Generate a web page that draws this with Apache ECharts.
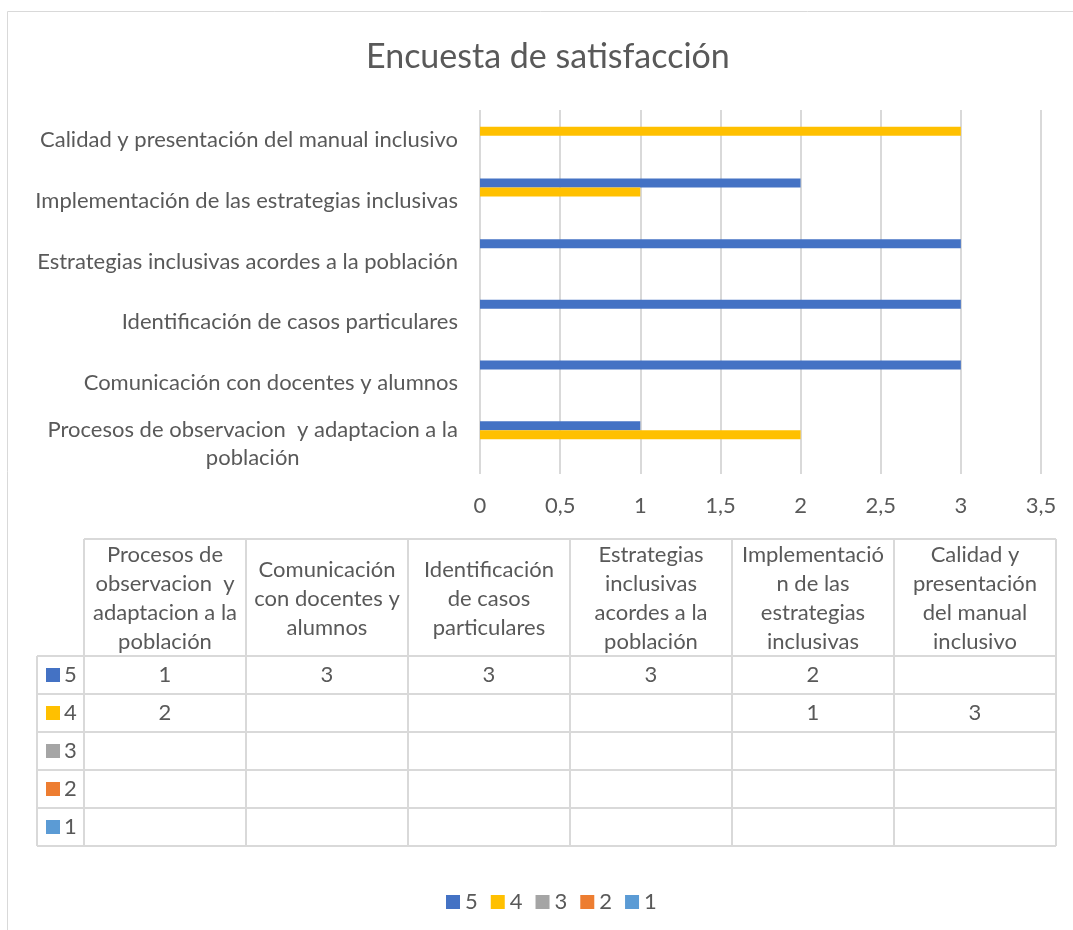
<!DOCTYPE html>
<html>
<head>
<meta charset="utf-8">
<script src="https://cdn.jsdelivr.net/npm/echarts@6/dist/echarts.min.js"></script>
<style>
  html, body { margin: 0; padding: 0; background: #fff; }
  #chart { width: 1073px; height: 930px; }
</style>
</head>
<body>
<div id="chart"></div>
<script>
// data, bottom category first
const categories = [
  'Procesos de observacion  y adaptacion a la\npoblación',
  'Comunicación con docentes y alumnos',
  'Identificación de casos particulares',
  'Estrategias inclusivas acordes a la población',
  'Implementación de las estrategias inclusivas',
  'Calidad y presentación del manual inclusivo'
];
const tableHeaders = [
  'Procesos de\nobservacion  y\nadaptacion a la\npoblación',
  'Comunicación\ncon docentes y\nalumnos',
  'Identificación\nde casos\nparticulares',
  'Estrategias\ninclusivas\nacordes a la\npoblación',
  'Implementació\nn de las\nestrategias\ninclusivas',
  'Calidad y\npresentación\ndel manual\ninclusivo'
];
const seriesNames = ['5', '4', '3', '2', '1'];
const colors = ['#4472C4', '#FFC000', '#A5A5A5', '#ED7D31', '#5B9BD5'];
const values5 = [1, 3, 3, 3, 2, null];
const values4 = [2, null, null, null, 1, 3];
const values3 = [null, null, null, null, null, null];
const values2 = [null, null, null, null, null, null];
const values1 = [null, null, null, null, null, null];
const seriesValues = [values5, values4, values3, values2, values1];
const xMin = 0, xMax = 3.5, xStep = 0.5;

const FONT = 'Lato';
const FS = 22;
const TXT = '#595959';
const LINE = '#D9D9D9';

// measure text so the wrapped axis label can have its 2nd line centred
const ctx = document.createElement('canvas').getContext('2d');
ctx.font = FS + 'px ' + FONT;

const chart = echarts.init(document.getElementById('chart'));

// table layout
const tLeft = 37, tKeyRight = 84, tRight = 1056, tTop = 539, tHeadBottom = 656, rowH = 38;
const colW = (tRight - tKeyRight) / tableHeaders.length;

const graphics = [];
// outer frame
graphics.push({ type: 'rect', shape: { x: 7.5, y: 11.5, width: 1200, height: 1000 }, style: { fill: 'none', stroke: LINE, lineWidth: 1 }, silent: true });
// horizontal lines
graphics.push({ type: 'line', shape: { x1: tKeyRight, y1: tTop, x2: tRight, y2: tTop }, style: { stroke: LINE, lineWidth: 2 } });
for (let i = 0; i <= seriesNames.length; i++) {
  const y = tHeadBottom + i * rowH;
  graphics.push({ type: 'line', shape: { x1: tLeft, y1: y, x2: tRight, y2: y }, style: { stroke: LINE, lineWidth: 2 } });
}
// vertical lines
graphics.push({ type: 'line', shape: { x1: tLeft, y1: tHeadBottom, x2: tLeft, y2: tHeadBottom + seriesNames.length * rowH }, style: { stroke: LINE, lineWidth: 2 } });
for (let c = 0; c <= tableHeaders.length; c++) {
  const x = tKeyRight + c * colW;
  graphics.push({ type: 'line', shape: { x1: x, y1: tTop, x2: x, y2: tHeadBottom + seriesNames.length * rowH }, style: { stroke: LINE, lineWidth: 2 } });
}
// header texts
tableHeaders.forEach((h, c) => {
  graphics.push({
    type: 'text', x: tKeyRight + c * colW + colW / 2, y: (tTop + tHeadBottom) / 2 + 1,
    style: { text: h, font: FS + 'px ' + FONT, fill: TXT, align: 'center', verticalAlign: 'middle', lineHeight: 29 }
  });
});
// rows
seriesNames.forEach((name, r) => {
  const cy = tHeadBottom + r * rowH + rowH / 2;
  graphics.push({ type: 'rect', shape: { x: 46, y: cy - 7, width: 14, height: 14 }, style: { fill: colors[r] } });
  graphics.push({ type: 'text', x: 64, y: cy, style: { text: name, font: FS + 'px ' + FONT, fill: TXT, align: 'left', verticalAlign: 'middle' } });
  seriesValues[r].forEach((v, c) => {
    if (v == null) return;
    graphics.push({
      type: 'text', x: tKeyRight + c * colW + colW / 2, y: cy,
      style: { text: String(v), font: FS + 'px ' + FONT, fill: TXT, align: 'center', verticalAlign: 'middle' }
    });
  });
});

chart.setOption({
  animation: false,
  textStyle: { fontFamily: FONT },
  title: {
    text: 'Encuesta de satisfacción',
    left: 361, top: 35,
    textStyle: { fontSize: 34, fontWeight: 'normal', color: TXT, fontFamily: FONT }
  },
  legend: {
    data: seriesNames,
    left: 441, top: 886,
    itemWidth: 14, itemHeight: 14, itemGap: 13,
    icon: 'rect',
    textStyle: { fontSize: FS, color: TXT }
  },
  grid: { left: 480, right: 32, top: 110, bottom: 456 },
  xAxis: {
    type: 'value', min: xMin, max: xMax, interval: xStep,
    axisLine: { show: false }, axisTick: { show: false },
    splitLine: { lineStyle: { color: LINE, width: 2 } },
    axisLabel: {
      fontSize: FS, color: TXT, margin: 21,
      formatter: v => String(v).replace('.', ',')
    }
  },
  yAxis: {
    type: 'category', data: categories,
    axisLine: { show: false }, axisTick: { show: false },
    axisLabel: {
      fontSize: FS, color: TXT, margin: 22, lineHeight: 28,
      formatter: v => {
        const parts = v.split('\n');
        if (parts.length < 2) return '{a|' + v + '}';
        return '{a|' + parts[0] + '}\n{b|' + parts[1] + '}';
      },
      rich: {
        a: { fontSize: FS, color: TXT, fontFamily: FONT, lineHeight: 28 },
        b: { fontSize: FS, color: TXT, fontFamily: FONT, lineHeight: 28, align: 'center',
             width: ctx.measureText(categories[0].split('\n')[0]).width }
      }
    }
  },
  series: seriesNames.map((name, i) => ({
    name: name, type: 'bar',
    data: seriesValues[i],
    barWidth: 9, barGap: '0%',
    itemStyle: { color: colors[i] }
  })),
  graphic: graphics
});
</script>
</body>
</html>
